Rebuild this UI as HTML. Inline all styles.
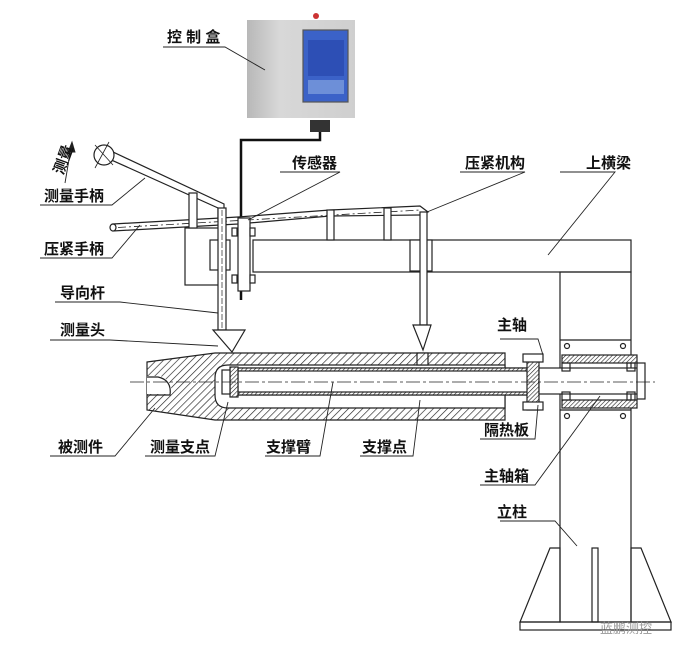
<!DOCTYPE html>
<html><head><meta charset="utf-8"><style>
html,body{margin:0;padding:0;background:#fff;}
svg{display:block;}
text{font-family:"Liberation Sans","Noto Sans CJK SC",sans-serif;font-weight:bold;font-size:15px;fill:#111;}
</style></head><body>
<svg width="691" height="659" viewBox="0 0 691 659" xmlns="http://www.w3.org/2000/svg">
<defs>
<pattern id="h" width="5" height="5" patternUnits="userSpaceOnUse" patternTransform="rotate(45)">
<rect width="5" height="5" fill="#fff"/><line x1="0" y1="0" x2="0" y2="5" stroke="#222" stroke-width="1.3"/></pattern>
<pattern id="hd" width="3" height="3" patternUnits="userSpaceOnUse" patternTransform="rotate(45)">
<rect width="3" height="3" fill="#fff"/><line x1="0" y1="0" x2="0" y2="3" stroke="#222" stroke-width="1.2"/></pattern>
<linearGradient id="g" x1="0" x2="1"><stop offset="0" stop-color="#b8b8b8"/><stop offset="0.3" stop-color="#d8d8d8"/><stop offset="1" stop-color="#cfcfcf"/></linearGradient>
</defs>
<g stroke="#222" stroke-width="1.2" fill="none">
<!-- control box -->
<rect x="247" y="20" width="108" height="98" fill="url(#g)" stroke="none"/>
<rect x="303" y="30" width="45" height="72" fill="#3b62c8" stroke="#555"/>
<rect x="308" y="40" width="36" height="36" fill="#2d4fb5" stroke="none"/>
<rect x="308" y="80" width="36" height="14" fill="#6d8fd8" stroke="none"/>
<rect x="310" y="120" width="20" height="12" fill="#333" stroke="none"/>
<circle cx="316" cy="16" r="3" fill="#c33" stroke="none"/>
<!-- cable -->
<polyline points="320,132 320,140 241,140 241,300" stroke="#111" stroke-width="2.5"/>
<!-- upper beam -->
<rect x="253" y="240" width="378" height="32"/>
<!-- column -->
<rect x="560" y="272" width="71" height="350"/>
<line x1="560" y1="340" x2="631" y2="340"/><line x1="560" y1="410" x2="631" y2="410"/>
<!-- base -->
<polygon points="550,548 560,548 560,622 520,622"/>
<polygon points="641,548 631,548 631,622 671,622"/>
<rect x="520" y="622" width="151" height="8"/>
<rect x="592" y="548" width="6" height="74"/>
<!-- left box -->
<rect x="185" y="228" width="40" height="57"/>
<rect x="210" y="240" width="20" height="30"/>
<!-- compression bar -->
<polygon points="113,224 238,217 330,210 420,206 428,212 420,215 330,216 238,224 113,231" fill="#fff"/>
<line x1="118" y1="227.5" x2="420" y2="210" stroke-dasharray="8,3,2,3" stroke-width="0.8"/>
<ellipse cx="113" cy="227.5" rx="3" ry="3.5" fill="#fff"/>
<!-- measure handle -->
<polygon points="107,158 113,152 224,204 224,220 218,220 218,208" fill="#fff"/>
<circle cx="104" cy="155" r="10" fill="#fff"/>
<line x1="95" y1="145" x2="113" y2="165" stroke-width="0.8"/>
<line x1="109" y1="142" x2="95" y2="168" stroke-width="0.8"/>
<!-- hang plates -->
<rect x="189" y="193" width="8" height="35" fill="#fff"/>
<rect x="327" y="210" width="7" height="30" fill="#fff"/>
<rect x="384" y="208" width="7" height="32" fill="#fff"/>
<!-- clamp plates -->
<rect x="410" y="240" width="22" height="31" fill="#fff"/>
<!-- rods -->
<rect x="218" y="208" width="8" height="122" fill="#fff"/>
<line x1="222" y1="210" x2="222" y2="330" stroke-dasharray="6,2" stroke-width="0.7"/>
<rect x="238" y="218" width="12" height="73" fill="#fff"/>
<rect x="232" y="228" width="5" height="8" fill="#fff"/><rect x="232" y="275" width="5" height="8" fill="#fff"/>
<rect x="250" y="228" width="5" height="8" fill="#fff"/><rect x="250" y="275" width="5" height="8" fill="#fff"/>
<rect x="420" y="212" width="7" height="113" fill="#fff"/>
<!-- cones -->
<polygon points="213,330 245,330 232,352" fill="#fff"/>
<polygon points="413,325 431,325 423,350" fill="#fff"/>
<!-- workpiece -->
<path d="M147,362 L215,353 L505,353 L505,420 L215,420 L147,410 Z" fill="url(#h)"/>
<path d="M228,365 L505,365 L505,408 L228,408 Q215,408 215,395 L215,378 Q215,365 228,365 Z" fill="#fff"/>
<path d="M147,376 L160,376 Q172,380 172,394 L147,394 Z" fill="#fff" stroke="none"/>
<path d="M147,377 L158,377 Q172,380 170,395 L147,395" fill="none"/>
<rect x="417" y="353" width="11" height="12" fill="url(#h)"/>
<!-- arm tube -->
<rect x="238" y="368" width="295" height="27" fill="#fff"/>
<rect x="238" y="368" width="295" height="3" fill="url(#hd)"/>
<rect x="238" y="392" width="295" height="3" fill="url(#hd)"/>
<rect x="230" y="367" width="8" height="30" fill="url(#hd)"/>
<rect x="222" y="370" width="8" height="24" fill="#fff"/>
<!-- spindle -->
<rect x="527" y="358" width="12" height="52" fill="url(#hd)"/>
<rect x="523" y="354" width="20" height="8" fill="#fff"/><rect x="523" y="402" width="20" height="8" fill="#fff"/>
<rect x="539" y="368" width="105" height="26" fill="#fff"/>
<rect x="562" y="355" width="75" height="8" fill="url(#hd)"/>
<rect x="562" y="400" width="75" height="8" fill="url(#hd)"/>
<rect x="562" y="363" width="8" height="8"/><rect x="627" y="363" width="8" height="8"/>
<rect x="562" y="392" width="8" height="8"/><rect x="627" y="392" width="8" height="8"/>
<rect x="637" y="363" width="8" height="36" fill="#fff"/>
<line x1="130" y1="382" x2="655" y2="382" stroke-dasharray="14,3,3,3" stroke-width="0.8"/>
<circle cx="567" cy="346" r="2.5"/><circle cx="623" cy="346" r="2.5"/>
<circle cx="567" cy="416" r="2.5"/><circle cx="623" cy="416" r="2.5"/>
</g>
<!-- leaders -->
<g stroke="#222" stroke-width="0.9" fill="none">
<polyline points="163,47 225,47 265,70"/>
<polyline points="280,172 340,172 248,220"/>
<polyline points="460,172 525,172 427,212"/>
<polyline points="560,172 615,172 548,255"/>
<polyline points="40,205 112,205 145,178"/>
<polyline points="40,258 112,258 140,225"/>
<polyline points="55,302 120,302 218,313"/>
<polyline points="50,340 110,340 218,346"/>
<polyline points="50,456 115,456 155,408"/>
<polyline points="145,456 215,456 228,402"/>
<polyline points="265,456 320,456 333,382"/>
<polyline points="360,456 413,456 420,400"/>
<polyline points="500,339 538,339 543,355"/>
<polyline points="480,439 535,439 538,405"/>
<polyline points="480,485 535,485 600,396"/>
<polyline points="500,521 555,521 577,546"/>
<line x1="65" y1="183" x2="72" y2="142"/>
<polygon points="72,142 68,152 75,152" fill="#222"/>
</g>
<text x="167" y="42">控 制 盒</text>
<text x="292" y="168">传感器</text>
<text x="465" y="168">压紧机构</text>
<text x="586" y="168">上横梁</text>
<text x="44" y="201">测量手柄</text>
<text x="44" y="254">压紧手柄</text>
<text x="60" y="298">导向杆</text>
<text x="60" y="335">测量头</text>
<text x="497" y="330">主轴</text>
<text x="58" y="452">被测件</text>
<text x="150" y="452">测量支点</text>
<text x="266" y="452">支撑臂</text>
<text x="362" y="452">支撑点</text>
<text x="484" y="435">隔热板</text>
<text x="484" y="481">主轴箱</text>
<text x="497" y="517">立柱</text>
<text x="48" y="176" transform="rotate(-70 55 165)" font-size="12">测量</text>
<text x="600" y="633" style="font-size:13px;fill:#999;font-weight:normal">蓝鹏测控</text>
</svg>
</body></html>
